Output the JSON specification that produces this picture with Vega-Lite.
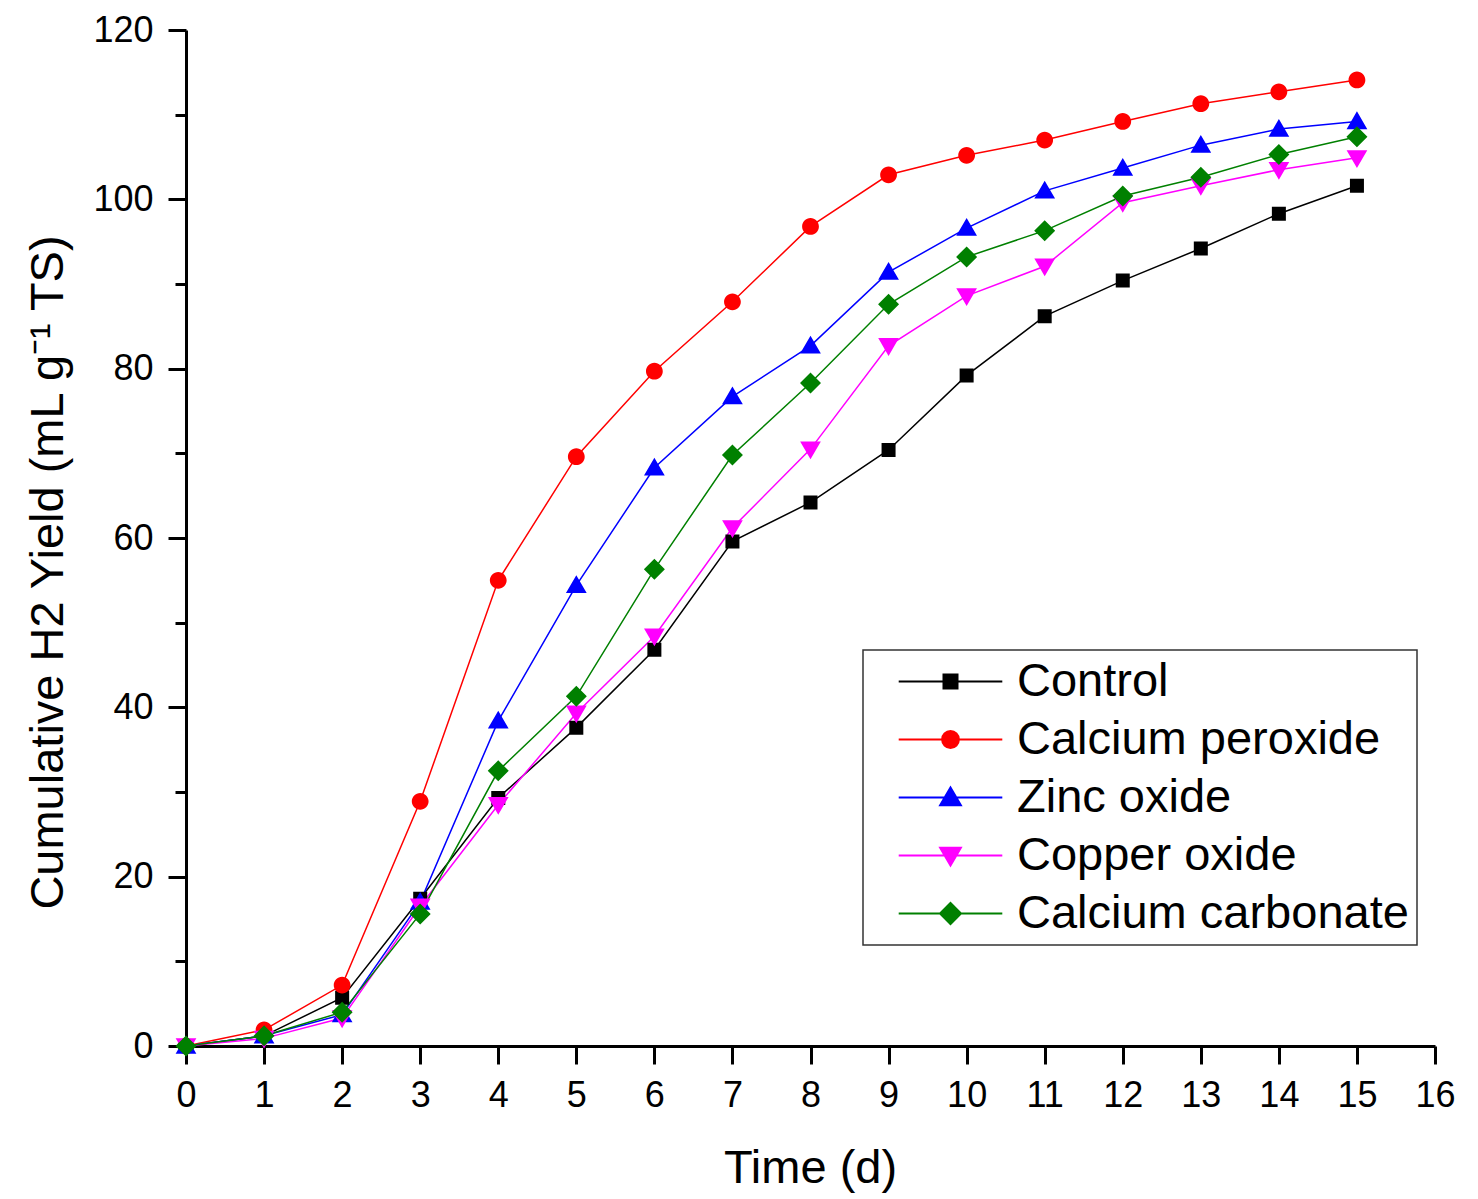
{
  "$schema": "https://vega.github.io/schema/vega-lite/v6.json",
  "width": 1249,
  "height": 1016,
  "autosize": {"type": "none"},
  "padding": {"left": 186, "top": 30, "right": 43, "bottom": 153},
  "background": "white",
  "config": {
    "view": {"stroke": null},
    "font": "Liberation Sans",
    "legend": {
      "orient": "none",
      "legendX": 677,
      "legendY": 620,
      "strokeColor": "#333333",
      "strokeWidth": 1.5,
      "fillColor": "white",
      "padding": 8,
      "symbolSize": 784,
      "symbolOffset": 56,
      "labelOffset": 43,
      "labelFont": "Liberation Sans",
      "labelFontSize": 47,
      "labelColor": "black",
      "labelLimit": 0,
      "rowPadding": 10
    }
  },
  "data": {
    "values": [
      {"series": "Control", "t": 0, "y": 0},
      {"series": "Control", "t": 1, "y": 1.2},
      {"series": "Control", "t": 2, "y": 5.7},
      {"series": "Control", "t": 3, "y": 17.4},
      {"series": "Control", "t": 4, "y": 29.3},
      {"series": "Control", "t": 5, "y": 37.6},
      {"series": "Control", "t": 6, "y": 46.8},
      {"series": "Control", "t": 7, "y": 59.6},
      {"series": "Control", "t": 8, "y": 64.2},
      {"series": "Control", "t": 9, "y": 70.4},
      {"series": "Control", "t": 10, "y": 79.2},
      {"series": "Control", "t": 11, "y": 86.2},
      {"series": "Control", "t": 12, "y": 90.4},
      {"series": "Control", "t": 13, "y": 94.2},
      {"series": "Control", "t": 14, "y": 98.3},
      {"series": "Control", "t": 15, "y": 101.6},
      {"series": "Calcium peroxide", "t": 0, "y": 0},
      {"series": "Calcium peroxide", "t": 1, "y": 1.9},
      {"series": "Calcium peroxide", "t": 2, "y": 7.2},
      {"series": "Calcium peroxide", "t": 3, "y": 28.9},
      {"series": "Calcium peroxide", "t": 4, "y": 55.0},
      {"series": "Calcium peroxide", "t": 5, "y": 69.6},
      {"series": "Calcium peroxide", "t": 6, "y": 79.7},
      {"series": "Calcium peroxide", "t": 7, "y": 87.9},
      {"series": "Calcium peroxide", "t": 8, "y": 96.8},
      {"series": "Calcium peroxide", "t": 9, "y": 102.9},
      {"series": "Calcium peroxide", "t": 10, "y": 105.2},
      {"series": "Calcium peroxide", "t": 11, "y": 107.0},
      {"series": "Calcium peroxide", "t": 12, "y": 109.2},
      {"series": "Calcium peroxide", "t": 13, "y": 111.3},
      {"series": "Calcium peroxide", "t": 14, "y": 112.7},
      {"series": "Calcium peroxide", "t": 15, "y": 114.1},
      {"series": "Zinc oxide", "t": 0, "y": 0},
      {"series": "Zinc oxide", "t": 1, "y": 1.2},
      {"series": "Zinc oxide", "t": 2, "y": 3.7},
      {"series": "Zinc oxide", "t": 3, "y": 17.0},
      {"series": "Zinc oxide", "t": 4, "y": 38.4},
      {"series": "Zinc oxide", "t": 5, "y": 54.4},
      {"series": "Zinc oxide", "t": 6, "y": 68.3},
      {"series": "Zinc oxide", "t": 7, "y": 76.7},
      {"series": "Zinc oxide", "t": 8, "y": 82.7},
      {"series": "Zinc oxide", "t": 9, "y": 91.4},
      {"series": "Zinc oxide", "t": 10, "y": 96.6},
      {"series": "Zinc oxide", "t": 11, "y": 101.0},
      {"series": "Zinc oxide", "t": 12, "y": 103.7},
      {"series": "Zinc oxide", "t": 13, "y": 106.4},
      {"series": "Zinc oxide", "t": 14, "y": 108.3},
      {"series": "Zinc oxide", "t": 15, "y": 109.2},
      {"series": "Copper oxide", "t": 0, "y": 0},
      {"series": "Copper oxide", "t": 1, "y": 0.9},
      {"series": "Copper oxide", "t": 2, "y": 3.3},
      {"series": "Copper oxide", "t": 3, "y": 16.5},
      {"series": "Copper oxide", "t": 4, "y": 28.5},
      {"series": "Copper oxide", "t": 5, "y": 39.3},
      {"series": "Copper oxide", "t": 6, "y": 48.4},
      {"series": "Copper oxide", "t": 7, "y": 61.2},
      {"series": "Copper oxide", "t": 8, "y": 70.5},
      {"series": "Copper oxide", "t": 9, "y": 82.7},
      {"series": "Copper oxide", "t": 10, "y": 88.6},
      {"series": "Copper oxide", "t": 11, "y": 92.1},
      {"series": "Copper oxide", "t": 12, "y": 99.6},
      {"series": "Copper oxide", "t": 13, "y": 101.6},
      {"series": "Copper oxide", "t": 14, "y": 103.5},
      {"series": "Copper oxide", "t": 15, "y": 104.9},
      {"series": "Calcium carbonate", "t": 0, "y": 0},
      {"series": "Calcium carbonate", "t": 1, "y": 1.2},
      {"series": "Calcium carbonate", "t": 2, "y": 4.0},
      {"series": "Calcium carbonate", "t": 3, "y": 15.6},
      {"series": "Calcium carbonate", "t": 4, "y": 32.5},
      {"series": "Calcium carbonate", "t": 5, "y": 41.3},
      {"series": "Calcium carbonate", "t": 6, "y": 56.3},
      {"series": "Calcium carbonate", "t": 7, "y": 69.8},
      {"series": "Calcium carbonate", "t": 8, "y": 78.3},
      {"series": "Calcium carbonate", "t": 9, "y": 87.6},
      {"series": "Calcium carbonate", "t": 10, "y": 93.2},
      {"series": "Calcium carbonate", "t": 11, "y": 96.3},
      {"series": "Calcium carbonate", "t": 12, "y": 100.4},
      {"series": "Calcium carbonate", "t": 13, "y": 102.6},
      {"series": "Calcium carbonate", "t": 14, "y": 105.3},
      {"series": "Calcium carbonate", "t": 15, "y": 107.4}
    ]
  },
  "encoding": {
    "x": {
      "field": "t",
      "type": "quantitative",
      "scale": {"domain": [0, 16], "nice": false, "zero": false},
      "axis": {
        "values": [0,1,2,3,4,5,6,7,8,9,10,11,12,13,14,15,16],
        "grid": false,
        "domainColor": "black",
        "domainWidth": 3,
        "tickColor": "black",
        "tickWidth": 3,
        "tickSize": 18,
        "labelFont": "Liberation Sans",
        "labelFontSize": 36,
        "labelColor": "black",
        "labelPadding": 14,
        "labelFlush": false,
        "labelOverlap": false,
        "title": "Time (d)",
        "titleFont": "Liberation Sans",
        "titleFontSize": 47,
        "titleFontWeight": "normal",
        "titleColor": "black",
        "titleBaseline": "alphabetic",
        "titleAlign": "center",
        "titleX": 624,
        "titleY": 136
      }
    },
    "y": {
      "field": "y",
      "type": "quantitative",
      "scale": {"domain": [0, 120], "nice": false},
      "axis": {
        "values": [0,10,20,30,40,50,60,70,80,90,100,110,120],
        "labelExpr": "datum.value % 20 === 0 ? datum.label : ''",
        "grid": false,
        "domainColor": "black",
        "domainWidth": 3,
        "tickColor": "black",
        "tickWidth": 3,
        "tickSize": {"condition": {"test": "datum.value % 20 === 0", "value": 18}, "value": 11},
        "labelFont": "Liberation Sans",
        "labelFontSize": 36,
        "labelColor": "black",
        "labelPadding": 15,
        "labelFlush": false,
        "labelOverlap": false,
        "title": "Cumulative H2 Yield (mL g⁻¹ TS)",
        "titleFont": "Liberation Sans",
        "titleFontSize": 47,
        "titleFontWeight": "normal",
        "titleColor": "black",
        "titleAngle": -90,
        "titleBaseline": "alphabetic",
        "titleAlign": "center",
        "titleX": -124,
        "titleY": 542
      }
    },
    "color": {
      "field": "series",
      "type": "nominal",
      "title": null,
      "scale": {
        "domain": ["Control", "Calcium peroxide", "Zinc oxide", "Copper oxide", "Calcium carbonate"],
        "range": ["#000000", "#FF0000", "#0000FF", "#FF00FF", "#008000"]
      },
      "legend": {
        "title": null,
        "encode": {
          "symbols": {
            "update": {
              "stroke": {"scale": "color", "field": "value"},
              "strokeWidth": {"value": 2},
              "opacity": {"value": 1}
            }
          }
        }
      }
    }
  },
  "layer": [
    {
      "mark": {"type": "line", "strokeWidth": 1.5}
    },
    {
      "mark": {"type": "point", "filled": true, "opacity": 1, "size": 784, "strokeWidth": 0},
      "encoding": {
        "shape": {
          "field": "series",
          "type": "nominal",
          "title": null,
          "scale": {
            "domain": ["Control", "Calcium peroxide", "Zinc oxide", "Copper oxide", "Calcium carbonate"],
            "range": [
              "M-3.7,0H3.7M-0.5,-0.5H0.5V0.5H-0.5Z",
              "M-3.7,0H3.7M-0.6,0A0.6,0.6,0,1,0,0.6,0A0.6,0.6,0,1,0,-0.6,0Z",
              "M-3.7,0H3.7M0,-0.72L0.74,0.55H-0.74Z",
              "M-3.7,0H3.7M0,0.72L0.74,-0.55H-0.74Z",
              "M-3.7,0H3.7M0,-0.75L0.75,0L0,0.75L-0.75,0Z"
            ]
          },
          "legend": {
            "title": null,
            "encode": {
              "symbols": {
                "update": {
                  "stroke": {"scale": "color", "field": "value"},
                  "strokeWidth": {"value": 2},
                  "opacity": {"value": 1}
                }
              }
            }
          }
        }
      }
    }
  ]
}
